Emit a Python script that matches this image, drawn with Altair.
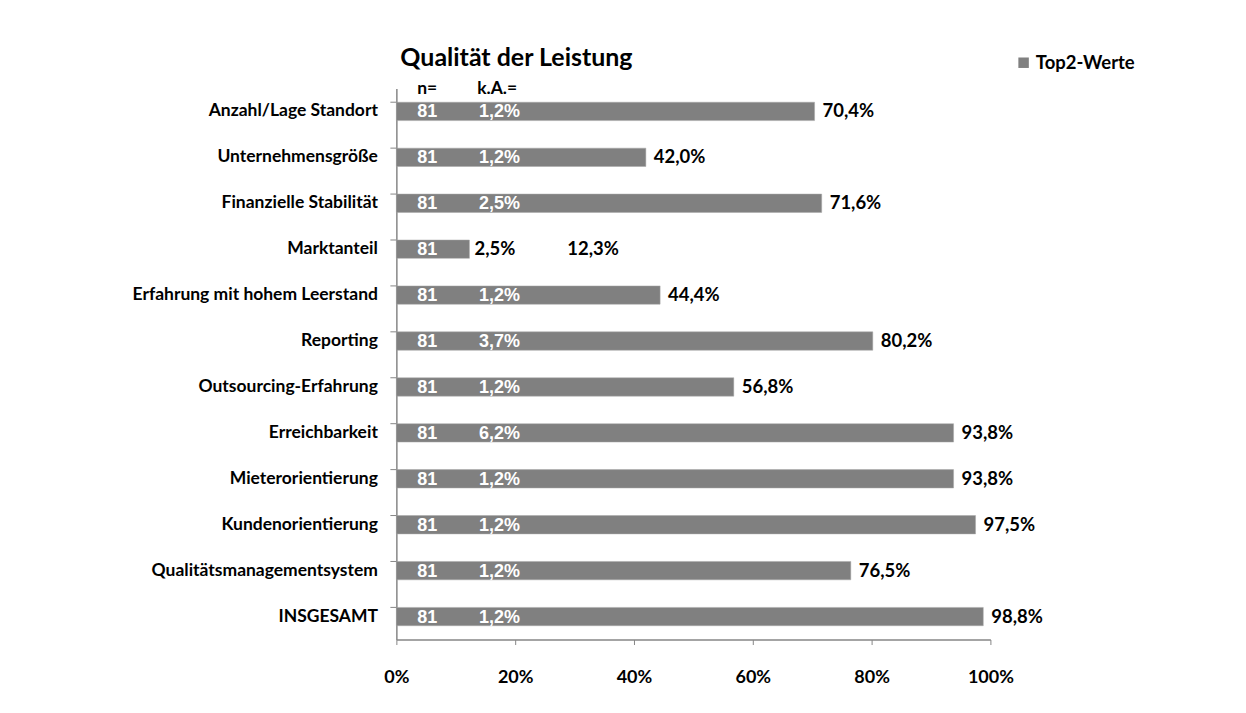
import altair as alt
import pandas as pd

categories = [
    "Anzahl/Lage Standort", "Unternehmensgröße", "Finanzielle Stabilität", "Marktanteil",
    "Erfahrung mit hohem Leerstand", "Reporting", "Outsourcing-Erfahrung", "Erreichbarkeit",
    "Mieterorientierung", "Kundenorientierung", "Qualitätsmanagementsystem", "INSGESAMT",
]
top2 = [0.704, 0.420, 0.716, 0.123, 0.444, 0.802, 0.568, 0.938, 0.938, 0.975, 0.765, 0.988]
n_values = [81] * 12
ka_values = [0.012, 0.012, 0.025, 0.025, 0.012, 0.037, 0.012, 0.062, 0.012, 0.012, 0.012, 0.012]
series_name = "Top2-Werte"
title_text = "Qualität der Leistung"
x_ticks = [0, 0.2, 0.4, 0.6, 0.8, 1.0]


def de_pct(v):
    return f"{v * 100:.1f}".replace(".", ",") + "%"


df = pd.DataFrame({
    "cat": categories,
    "value": top2,
    "n": [str(v) for v in n_values],
    "ka": ka_values,
    "value_lbl": [de_pct(v) for v in top2],
    "ka_lbl": [de_pct(v) for v in ka_values],
    "series": [series_name] * len(categories),
})

FONT = "Lato"
base = alt.Chart(df)

xscale = alt.Scale(domain=[0, 1], nice=False)
y_enc = alt.Y(
    "cat:N", sort=categories, title=None,
    scale=alt.Scale(paddingInner=0.6, paddingOuter=0.3),
    axis=alt.Axis(ticks=False, labelFontSize=17.5, labelFont=FONT, labelFontWeight="bold",
                  labelColor="#000000", labelPadding=19, domainColor="#868686",
                  domainWidth=1.5, labelLimit=400),
)

bars = base.mark_bar(color="#808080", stroke="#a8a8a8", strokeWidth=0.5).encode(
    x=alt.X("value:Q", scale=xscale, title=None,
            axis=alt.Axis(format="%", values=x_ticks, labelFontSize=18, labelFont=FONT,
                          labelFontWeight="bold", labelColor="#000000", labelPadding=24,
                          tickSize=5, tickColor="#868686", domainColor="#868686",
                          domainWidth=1.5, grid=False, labelFlush=False)),
    y=y_enc,
    color=alt.Color("series:N", title=None,
                    scale=alt.Scale(range=["#808080"]),
                    legend=alt.Legend(orient="none", legendX=619, legendY=-35,
                                      symbolType="square", symbolSize=110,
                                      symbolStrokeWidth=0, labelFontSize=18.5,
                                      labelFont=FONT, labelFontWeight="bold",
                                      labelColor="#000000", padding=0, labelOffset=3)),
)

ytick = base.mark_rule(color="#868686", strokeWidth=1).encode(
    y=alt.Y("cat:N", sort=categories, bandPosition=0),
    x=alt.value(-6), x2=alt.value(0),
)

value_lbl = base.mark_text(align="left", baseline="middle", dx=8, fontSize=18.5, font=FONT,
                           fontWeight="bold", color="#000000").encode(
    x=alt.X("value:Q"), y=alt.Y("cat:N", sort=categories), text="value_lbl:N",
).transform_filter("datum.value >= 0.2")

value_lbl_short = base.mark_text(align="left", baseline="middle", dx=98, fontSize=18.5, font=FONT,
                                 fontWeight="bold", color="#000000").encode(
    x=alt.X("value:Q"), y=alt.Y("cat:N", sort=categories), text="value_lbl:N",
).transform_filter("datum.value < 0.2")

n_lbl = base.mark_text(align="left", baseline="middle", dy=1, fontSize=18,
                       font="Liberation Sans", fontWeight="bold", color="#ffffff").encode(
    x=alt.datum(0.035), y=alt.Y("cat:N", sort=categories), text="n:N",
)

ka_lbl = base.mark_text(align="left", baseline="middle", dy=1, fontSize=18,
                        font="Liberation Sans", fontWeight="bold", color="#ffffff").encode(
    x=alt.datum(0.139), y=alt.Y("cat:N", sort=categories), text="ka_lbl:N",
).transform_filter("datum.value >= 0.2")

ka_lbl_short = base.mark_text(align="left", baseline="middle", dx=5, fontSize=18.5, font=FONT,
                              fontWeight="bold", color="#000000").encode(
    x=alt.X("value:Q"), y=alt.Y("cat:N", sort=categories), text="ka_lbl:N",
).transform_filter("datum.value < 0.2")

hdr_df = pd.DataFrame({"cat": [categories[0], categories[0]], "h": ["n=", "k.A.="],
                       "hx": [0.035, 0.136]})
headers = alt.Chart(hdr_df).mark_text(align="left", baseline="middle", dy=-22, fontSize=17.5,
                                      font=FONT, fontWeight="bold", color="#000000").encode(
    x=alt.X("hx:Q"), y=alt.Y("cat:N", sort=categories), text="h:N",
)

title_df = pd.DataFrame({"t": [title_text]})
title = alt.Chart(title_df).mark_text(align="left", baseline="middle", fontSize=25, font=FONT,
                                      fontWeight="bold", color="#000000").encode(
    x=alt.value(4), y=alt.value(-30), text="t:N",
)

chart = alt.layer(
    bars, ytick, value_lbl, value_lbl_short, n_lbl, ka_lbl, ka_lbl_short, headers, title
).properties(
    width=595, height=552,
    autosize=alt.AutoSizeParams(type="none"),
    padding={"left": 389, "top": 80, "right": 248, "bottom": 65},
    background="#ffffff",
).configure_view(stroke=None)

chart.save("out.html", embed_options={"renderer": "svg", "actions": False})
